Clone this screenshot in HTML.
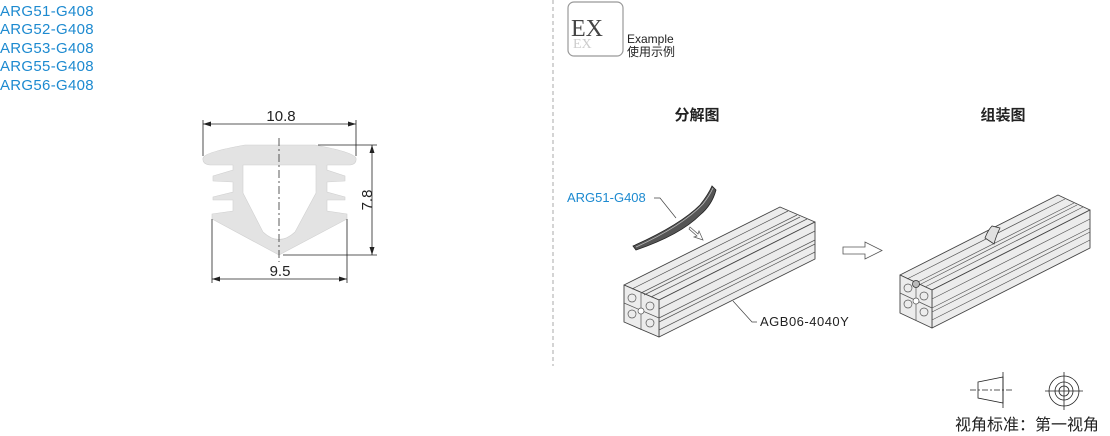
<!DOCTYPE html>
<html><head><meta charset="utf-8"><style>
html,body{margin:0;padding:0;background:#fff;}
body{width:1110px;height:436px;overflow:hidden;position:relative;font-family:"Liberation Sans","Noto Sans CJK SC",sans-serif;}
.list{position:absolute;left:0;top:3px;color:#1d8ad0;font-size:15px;line-height:18.4px;letter-spacing:0.3px;}
</style></head><body>
<div class="list">ARG51-G408<br>ARG52-G408<br>ARG53-G408<br>ARG55-G408<br>ARG56-G408</div>
<svg width="1110" height="436" style="position:absolute;left:0;top:0" xmlns="http://www.w3.org/2000/svg" font-family="Liberation Sans, Noto Sans CJK SC, sans-serif">
<path d="M203,158 Q205,152 245,145 L315,145 Q353,152 356,158 Q357,164 350,165 L327,165 L327,170 L345,176 L345,181 L327,182 L327,192 L345,197 L345,200 L327,200 L327,211 L347,214 L347,219 L279,255 L212,219 L212,214 L233,211 L233,200 L213,200 L213,197 L233,192 L233,182 L213,181 L213,176 L233,170 L233,165 L210,165 Q202,164 203,158 Z M243,165 L316,165 L316,193 L295,232 Q279,247 263,232 L243,193 Z" fill="#e3e3e3" fill-rule="evenodd" stroke="#d0d0d0" stroke-width="0.6"/>
<line x1="279" y1="138" x2="279" y2="262" stroke="#333" stroke-width="0.8" stroke-dasharray="8,3,2,3"/>
<g stroke="#222" stroke-width="0.8" fill="none">
<line x1="203" y1="120" x2="203" y2="156"/><line x1="356" y1="120" x2="356" y2="156"/>
<line x1="203" y1="124" x2="356" y2="124"/>
<line x1="212" y1="219" x2="212" y2="283"/><line x1="347" y1="219" x2="347" y2="283"/>
<line x1="212" y1="279" x2="347" y2="279"/>
<line x1="318" y1="145" x2="377" y2="145"/><line x1="283" y1="255" x2="377" y2="255"/>
<line x1="372" y1="145" x2="372" y2="255"/>
</g>
<g fill="#222">
<path d="M203,124 l8,-2.5 v5z"/><path d="M356,124 l-8,-2.5 v5z"/>
<path d="M212,279 l8,-2.5 v5z"/><path d="M347,279 l-8,-2.5 v5z"/>
<path d="M372,145 l-2.5,8 h5z"/><path d="M372,255 l-2.5,-8 h5z"/>
</g>
<text x="281" y="121" font-size="15" text-anchor="middle" fill="#222">10.8</text>
<text x="280" y="276" font-size="15" text-anchor="middle" fill="#222">9.5</text>
<text x="0" y="0" font-size="15" fill="#222" transform="translate(372,200) rotate(-90)" text-anchor="middle">7.8</text>
<line x1="553" y1="0" x2="553" y2="366" stroke="#aaa" stroke-width="1" stroke-dasharray="4,3"/>
<rect x="568" y="2" width="55" height="54" rx="6" fill="#fff" stroke="#999" stroke-width="1.2"/>
<text x="571" y="36" font-family="Liberation Serif, serif" font-size="24" fill="#444">EX</text>
<text x="573" y="48" font-family="Liberation Serif, serif" font-size="14" fill="#ccc">EX</text>
<text x="627" y="43" font-size="12" fill="#222">Example</text>
<text x="627" y="56" font-size="12" fill="#222">使用示例</text>
<text x="697" y="120" font-size="15" font-weight="bold" text-anchor="middle" fill="#222">分解图</text>
<text x="1003" y="120" font-size="15" font-weight="bold" text-anchor="middle" fill="#222">组装图</text>
<g stroke="#444" stroke-width="0.9" fill="#ececec" stroke-linejoin="round">
<polygon points="624,285 780,207 815,222 659,300"/>
<polygon points="659,300 815,222 815,259 659,337"/>
<polygon points="624,285 659,300 659,337 624,322"/>
</g>
<g stroke="#555" stroke-width="0.7" fill="none">
<line x1="641" y1="293" x2="797" y2="215"/><line x1="644" y1="295" x2="800" y2="217"/>
<line x1="659" y1="318" x2="815" y2="240"/><line x1="659" y1="322" x2="815" y2="244"/>
<line x1="632" y1="289" x2="788" y2="211"/><line x1="651" y1="297" x2="807" y2="219"/>
<line x1="659" y1="309" x2="815" y2="231"/><line x1="659" y1="330" x2="815" y2="252"/>
<line x1="641" y1="293" x2="641" y2="330"/><line x1="624" y1="303" x2="659" y2="318"/>
<circle cx="632" cy="298" r="4"/><circle cx="650" cy="306" r="4"/><circle cx="632" cy="314" r="4"/><circle cx="650" cy="323" r="4"/><circle cx="641" cy="311" r="3" fill="#fff"/>
</g>
<path d="M633,246 Q680,225 700,205 Q708,195 712,186 L716,190 Q712,205 700,215 Q680,235 636,250 Z" fill="#555" stroke="#222" stroke-width="0.8"/>
<path d="M636,247 Q682,226 703,204 Q710,195 713,188" fill="none" stroke="#bbb" stroke-width="0.8"/>
<path d="M690,227 l8,7 l1,-3 l4,9 l-9,-3 l3,-1 l-8,-7z" fill="#fff" stroke="#555" stroke-width="0.7"/>
<text x="567" y="202" font-size="13" fill="#1d8ad0">ARG51-G408</text>
<polyline points="654,198 660,198 676,218" fill="none" stroke="#444" stroke-width="0.7"/>
<polyline points="733,301 752,322 757,322" fill="none" stroke="#444" stroke-width="0.7"/>
<text x="760" y="326" font-size="13" fill="#222" letter-spacing="0.5">AGB06-4040Y</text>
<path d="M843,247 h22 v-5 l17,8.5 l-17,8.5 v-5 h-22z" fill="#fff" stroke="#555" stroke-width="0.8"/>
<g stroke="#444" stroke-width="0.9" fill="#ececec" stroke-linejoin="round">
<polygon points="900,275 1058,195 1090,210 932,290"/>
<polygon points="932,290 1090,210 1090,248 932,328"/>
<polygon points="900,275 932,290 932,328 900,313"/>
</g>
<g stroke="#555" stroke-width="0.7" fill="none">
<line x1="916" y1="283" x2="1074" y2="203"/><line x1="919" y1="285" x2="1077" y2="205"/>
<line x1="932" y1="308" x2="1090" y2="228"/><line x1="932" y1="312" x2="1090" y2="232"/>
<line x1="907" y1="279" x2="1065" y2="199"/><line x1="925" y1="287" x2="1083" y2="207"/>
<line x1="932" y1="299" x2="1090" y2="219"/><line x1="932" y1="320" x2="1090" y2="240"/>
<line x1="916" y1="283" x2="916" y2="320"/><line x1="900" y1="293" x2="932" y2="308"/>
<circle cx="908" cy="288" r="4"/><circle cx="924" cy="296" r="4"/><circle cx="908" cy="304" r="4"/><circle cx="924" cy="312" r="4"/><circle cx="916" cy="301" r="3" fill="#fff"/>
</g>
<path d="M985,238 Q988,230 992,226 L1000,228 Q996,236 994,244 Z" fill="#e0e0e0" stroke="#333" stroke-width="0.8"/>
<circle cx="916" cy="284" r="3.5" fill="#bbb" stroke="#333" stroke-width="0.8"/>
<g stroke="#222" stroke-width="0.8" fill="none">
<polygon points="978,382 1003,377 1003,403 978,398"/>
<line x1="970" y1="390" x2="1012" y2="390" stroke-dasharray="6,2,2,2"/>
<line x1="1003" y1="372" x2="1003" y2="408"/>
<circle cx="1064" cy="391" r="15"/><circle cx="1064" cy="391" r="9"/><circle cx="1064" cy="391" r="5"/>
<line x1="1045" y1="391" x2="1083" y2="391"/><line x1="1064" y1="372" x2="1064" y2="410"/>
</g>
<text x="955" y="430" font-size="16" fill="#222">视角标准：第一视角</text>
</svg>
</body></html>
